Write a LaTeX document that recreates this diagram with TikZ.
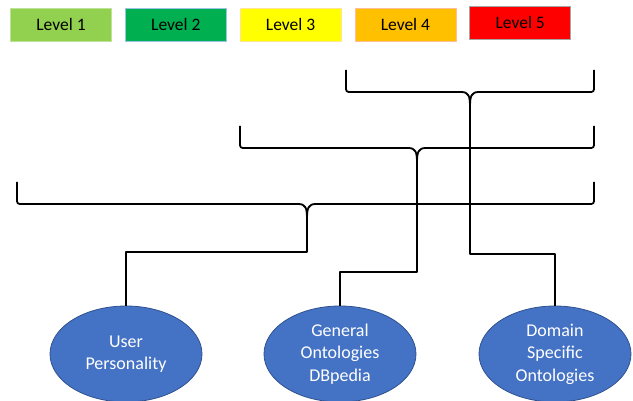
\documentclass[tikz,border=0pt]{standalone}
\usepackage{fontspec}
\setmainfont{Carlito}
\usetikzlibrary{positioning,shapes.geometric}
\definecolor{lvlA}{HTML}{92D050}
\definecolor{lvlB}{HTML}{00B050}
\definecolor{lvlC}{HTML}{FFFF00}
\definecolor{lvlD}{HTML}{FFC000}
\definecolor{lvlE}{HTML}{FF0000}
\definecolor{lvlBedge}{HTML}{9DC3E6}
\definecolor{ontoblue}{HTML}{4472C4}
\definecolor{ontoedge}{HTML}{2F528F}

\begin{document}
\begin{tikzpicture} [
	x=1pt, y=-1pt,
	node distance = 13pt,
	level/.style = {
		draw=#1,
		line width=0.8pt,
		minimum width=101pt,
		minimum height=33pt,
		inner sep=0pt,
		font=\fontsize{17.5}{20}\selectfont
	},
	onto/.style = {
		ellipse,
		draw=ontoedge,
		line width=0.8pt,
		fill=ontoblue,
		text=white,
		minimum width=152pt,
		minimum height=96pt,
		inner sep=0pt,
		align=center,
		font=\fontsize{18}{22.5}\selectfont
	},
	bracket/.style = {draw, line width=1.8pt, line join=round}
]
\useasboundingbox (0,0) rectangle (633,401);

% legend
\node (lvl1) [level=lvlA!60!white, fill=lvlA] at (61,24.5) {Level 1};
\node (lvl2) [level=lvlBedge, fill=lvlB, right=of lvl1] {Level 2};
\node (lvl3) [level=lvlC!50!orange!40!white, fill=lvlC, right=of lvl2] {Level 3};
\node (lvl4) [level=lvlD!50!red!40!white, fill=lvlD, right=of lvl3] {Level 4};
\node (lvl5) [level=gray!70, fill=lvlE, right=of lvl4, yshift=2pt] {Level 5};

% ontologies
\node (user)   [onto] at (126,354) {User\\Personality};
\node (general)[onto] at (340,354) {General\\Ontologies\\DBpedia};
\node (domain) [onto] at (555,354) {Domain\\Specific\\Ontologies};

% braces: left / cusp / right / top
\foreach \l/\c/\r/\t [count=\i, evaluate=\t as \h using \t+22] in
	{17/307/594/182, 240/417/594/126, 346/470/594/70}
{
	\draw[bracket] (\l,\t) -- (\l,{\h-6}) .. controls (\l,\h) .. ({\l+6},\h)
		-- ({\c-9},\h) .. controls ({\c-1},\h) and (\c,{\h+4}) .. (\c,{\h+16})
		coordinate (cusp\i)
		.. controls (\c,{\h+4}) and ({\c+1},\h) .. ({\c+9},\h)
		-- ({\r-6},\h) .. controls (\r,\h) .. (\r,{\h-6}) -- (\r,\t);
}

\coordinate (elbow1) at (0,252);
\coordinate (elbow2) at (0,272);
\coordinate (elbow3) at (0,254);

% connectors
\draw[bracket] (cusp1) -- (cusp1 |- elbow1) -| (user.north);
\draw[bracket] (cusp2) -- (cusp2 |- elbow2) -| (general.north);
\draw[bracket] (cusp3) -- (cusp3 |- elbow3) -| (domain.north);

\end{tikzpicture}
\end{document}
